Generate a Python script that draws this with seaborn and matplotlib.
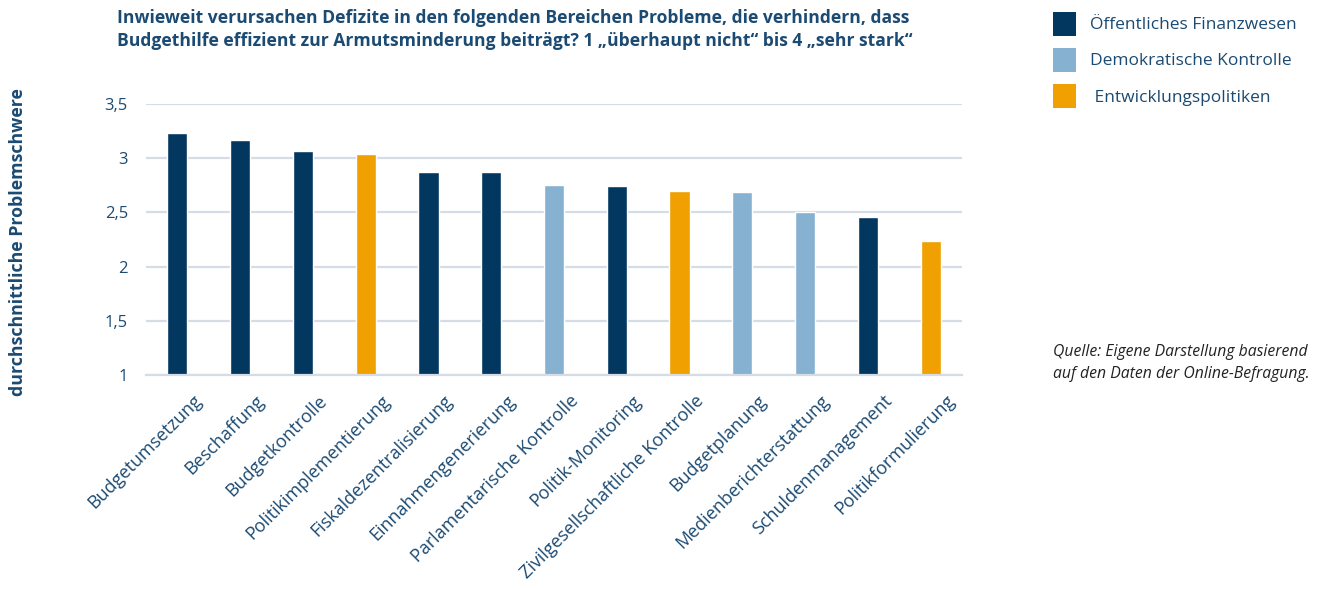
import matplotlib
matplotlib.use("Agg")
import numpy as np
import pandas as pd
import seaborn as sns
import matplotlib.pyplot as plt
from matplotlib.patches import Patch
from matplotlib.ticker import FixedLocator
from matplotlib.transforms import ScaledTranslation

# data
bereiche = ["Budgetumsetzung", "Beschaffung", "Budgetkontrolle", "Politikimplementierung",
            "Fiskaldezentralisierung", "Einnahmengenerierung", "Parlamentarische Kontrolle",
            "Politik-Monitoring", "Zivilgesellschaftliche Kontrolle", "Budgetplanung",
            "Medienberichterstattung", "Schuldenmanagement", "Politikformulierung"]
werte = [3.23, 3.17, 3.07, 3.04, 2.87, 2.87, 2.75, 2.74, 2.70, 2.69, 2.50, 2.46, 2.24]
gruppen = ["Öffentliches Finanzwesen", "Öffentliches Finanzwesen", "Öffentliches Finanzwesen",
           " Entwicklungspolitiken", "Öffentliches Finanzwesen", "Öffentliches Finanzwesen",
           "Demokratische Kontrolle", "Öffentliches Finanzwesen", " Entwicklungspolitiken",
           "Demokratische Kontrolle", "Demokratische Kontrolle", "Öffentliches Finanzwesen",
           " Entwicklungspolitiken"]
gruppen_order = ["Öffentliches Finanzwesen", "Demokratische Kontrolle", " Entwicklungspolitiken"]
yticks = [1, 1.5, 2, 2.5, 3, 3.5]
ytick_labels = ["1", "1,5", "2", "2,5", "3", "3,5"]

farben = {"Öffentliches Finanzwesen": "#023760",
          "Demokratische Kontrolle": "#87b1d1",
          " Entwicklungspolitiken": "#f0a000"}
textfarbe = "#1b4a72"
gridfarbe = "#d6dce5"

df = pd.DataFrame({"Bereich": bereiche, "Wert": werte, "Gruppe": gruppen})

sns.set_style("white")
plt.rcParams["font.family"] = ["Open Sans", "DejaVu Sans"]

fig = plt.figure(figsize=(13.18, 5.89), dpi=100)
ax = fig.add_axes([146 / 1318, 1 - 375 / 589, 816 / 1318, (375 - 104) / 589])

sns.barplot(data=df, x="Bereich", y="Wert", hue="Gruppe", hue_order=gruppen_order,
            palette=farben, dodge=False, width=0.32, saturation=1, legend=False, ax=ax)

ax.set_ylim(1, 3.5)
ax.set_xlim(-0.5, len(bereiche) - 0.5)
ax.set_yticks(yticks)
ax.set_yticklabels(ytick_labels, fontsize=12, color=textfarbe)
ax.yaxis.grid(True, color=gridfarbe, linewidth=1.6)
ax.set_axisbelow(True)
for s in ["top", "right", "left"]:
    ax.spines[s].set_visible(False)
ax.spines["bottom"].set_color(gridfarbe)
ax.spines["bottom"].set_linewidth(1.6)
ax.tick_params(axis="y", length=0, pad=13)
ax.tick_params(axis="x", which="major", length=0, pad=12)
ax.xaxis.set_minor_locator(FixedLocator(np.arange(-0.5, len(bereiche), 1)))
ax.tick_params(axis="x", which="minor", direction="in", length=9, width=1.6, color=gridfarbe)
ax.set_xticks(range(len(bereiche)))
ax.set_xticklabels(bereiche, rotation=45, ha="right", rotation_mode="anchor",
                   fontsize=13, color=textfarbe)
verschiebung = ScaledTranslation(15 / 100, 0, fig.dpi_scale_trans)
for lbl in ax.get_xticklabels():
    lbl.set_transform(lbl.get_transform() + verschiebung)
ax.set_xlabel("")
ax.set_ylabel("")

fig.text(18 / 1318, 1 - 242 / 589, "durchschnittliche Problemschwere", rotation=90,
         ha="center", va="center", fontsize=12.8, fontweight="bold", color=textfarbe)

fig.text(117 / 1318, 1 - 9 / 589,
         "Inwieweit verursachen Defizite in den folgenden Bereichen Probleme, die verhindern, dass\n"
         "Budgethilfe effizient zur Armutsminderung beiträgt? 1 „überhaupt nicht“ bis 4 „sehr stark“",
         ha="left", va="top", fontsize=12.6, fontweight="bold", color=textfarbe, linespacing=1.35)

handles = [Patch(facecolor=farben[g], edgecolor="none", label=g) for g in gruppen_order]
leg = fig.legend(handles=handles, loc="upper left", bbox_to_anchor=(1037 / 1318, 1 + 4 / 589),
                 frameon=False, fontsize=12.5, handlelength=1.35, handleheight=1.75,
                 labelspacing=0.7, handletextpad=0.8)
for t in leg.get_texts():
    t.set_color(textfarbe)

fig.text(1053 / 1318, 1 - 363 / 589,
         "Quelle: Eigene Darstellung basierend\nauf den Daten der Online-Befragung.",
         ha="left", va="center", fontsize=11.3, style="italic", color="#222222",
         linespacing=1.45)

fig.savefig("out.png", dpi=100)
